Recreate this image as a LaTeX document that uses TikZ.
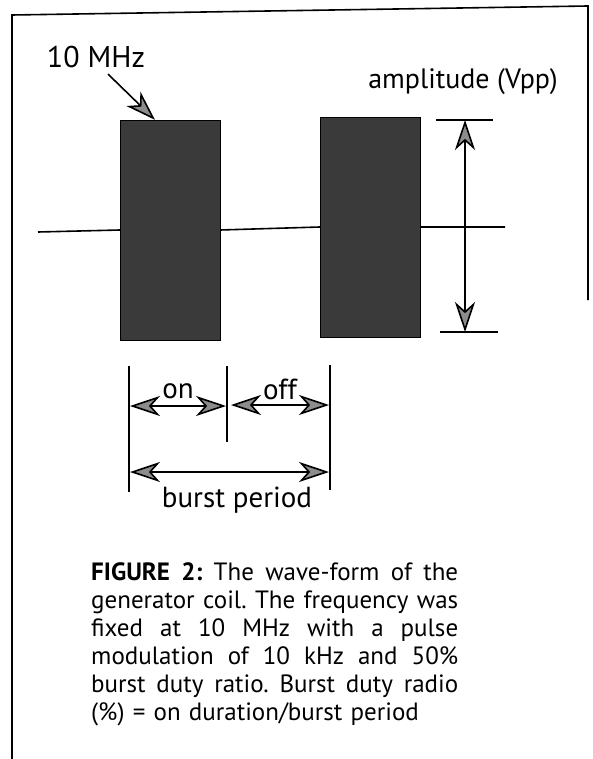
\documentclass[tikz,border=0pt]{standalone}
\usepackage{fontspec}
\setmainfont{PT Sans}
\usetikzlibrary{arrows.meta,positioning,calc}
\definecolor{PulseGray}{HTML}{3A3A3A}
\definecolor{TipGray}{HTML}{8C8C8C}
\tikzset{
  wire/.style={line width=1.6pt},
  dim/.style={wire,{Stealth[length=30pt,width=20pt,inset=9pt,fill=TipGray]}-{Stealth[length=30pt,width=20pt,inset=9pt,fill=TipGray]}},
  ptr/.style={wire,-{Stealth[length=30pt,width=20pt,inset=9pt,fill=TipGray]}},
  pulse/.style={fill=PulseGray,draw=black,minimum width=100pt,minimum height=220pt,inner sep=0pt},
  lbl/.style={font=\fontsize{29}{32}\selectfont,inner sep=0pt},
}

\begin{document}
\begin{tikzpicture}[x=1pt,y=-1pt]
  \useasboundingbox (0,0) rectangle (592,759);
  \draw[wire] (12,759)--(12,15)--(588,6)--(588,300);
  % the two bursts
  \node[pulse] (pulseA) at (170,230) {};
  \node[pulse] (pulseB) at (370,227) {};
  \coordinate (baseL) at (38,232);
  \coordinate (baseR) at (505,227);
  \draw[wire] (baseL)--(pulseA.west) (pulseA.east)--(pulseB.west) (pulseB.east)--(baseR);
  % carrier label
  \node[lbl,font=\fontsize{30}{32}\selectfont] (mhz) at (96,57) {10 MHz};
  \coordinate (mhzTip) at ($(pulseA.north west)!.35!(pulseA.north east)$);
  \draw[ptr] ($(mhz.south)+(12,6)$)--(mhzTip);
  % amplitude
  \node[lbl,font=\fontsize{28}{32}\selectfont] (amp) at (463,82) {amplitude (Vpp)};
  \coordinate (ampT) at (465,120);
  \coordinate (ampB) at (465,332);
  \draw[wire] ($(ampT)+(-29,0)$)--($(ampT)+(28,0)$);
  \draw[wire] ($(ampB)+(-25,0)$)--($(ampB)+(33,0)$);
  \draw[dim] (ampT)--(ampB);
  % burst timing
  \coordinate (d1t) at (129,366); \coordinate (d1b) at (129,492);
  \coordinate (d2t) at (227,366); \coordinate (d2b) at (227,442);
  \coordinate (d3t) at (330,365); \coordinate (d3b) at (330,490);
  \draw[wire] (d1t)--(d1b) (d2t)--(d2b) (d3t)--(d3b);
  \coordinate (onL) at (130,406); \coordinate (onR) at (226,406);
  \coordinate (offL) at (231,405); \coordinate (offR) at (329,405);
  \coordinate (perL) at (130,472); \coordinate (perR) at (329,472);
  \draw[dim] (onL)--(onR);
  \draw[dim] (offL)--(offR);
  \draw[dim] (perL)--(perR);
  \node[lbl] (on) at (178,391) {on};
  \node[lbl] (off) at (280,389) {off};
  \node[lbl] (per) at (237,500) {burst period};
  % caption
  \node[anchor=north west,text width=367pt,align=justify,inner sep=0pt,
        font=\fontsize{25}{28}\selectfont\frenchspacing] (cap) at (91,562)
    {\spaceskip=.33em plus .6em minus .05em\relax
     \textbf{FIGURE 2:} The wave-form of the\linebreak
     generator coil. The frequency was\linebreak
     fixed at 10 MHz with a pulse\linebreak
     modulation of 10 kHz and 50\%\linebreak
     burst duty ratio. Burst duty radio\linebreak
     (\%) = on duration/burst period};
\end{tikzpicture}
\end{document}
